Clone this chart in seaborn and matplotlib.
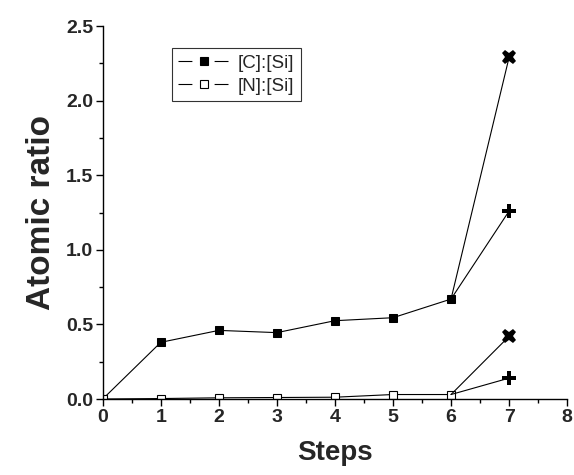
import matplotlib
matplotlib.use("Agg")
import matplotlib.pyplot as plt
import seaborn as sns
import pandas as pd
from matplotlib.ticker import MultipleLocator, FormatStrFormatter
from matplotlib.lines import Line2D
from matplotlib.legend_handler import HandlerTuple

steps = [0, 1, 2, 3, 4, 5, 6]
c_si = [0.0, 0.38, 0.46, 0.445, 0.525, 0.545, 0.67]
n_si = [0.0, 0.003, 0.008, 0.01, 0.012, 0.03, 0.03]
branch_step = 7
c_branch_x = 2.29
c_branch_plus = 1.26
n_branch_x = 0.42
n_branch_plus = 0.14
labels = ["[C]:[Si]", "[N]:[Si]"]

sns.set_theme(style="ticks")
plt.rcParams['font.family'] = ['Liberation Sans', 'DejaVu Sans']
plt.rcParams['lines.scale_dashes'] = False

fig = plt.figure(figsize=(5.74, 4.75), dpi=100)
ax = fig.add_axes([0.179, 0.16, 0.809, 0.785])

df = pd.DataFrame({"Steps": steps * 2,
                   "ratio": c_si + n_si,
                   "series": [labels[0]] * len(steps) + [labels[1]] * len(steps)})

sns.lineplot(data=df[df.series == labels[0]], x="Steps", y="ratio", ax=ax,
             color="black", lw=0.8, marker="s", markersize=6,
             markerfacecolor="black", markeredgecolor="black", legend=False)
sns.lineplot(data=df[df.series == labels[1]], x="Steps", y="ratio", ax=ax,
             color="black", lw=0.8, marker="s", markersize=6,
             markerfacecolor="white", markeredgecolor="black", markeredgewidth=0.8,
             legend=False)

# branches from step 6 to step 7
for start, end, mk in [(c_si[-1], c_branch_x, "X"), (c_si[-1], c_branch_plus, "P"),
                       (n_si[-1], n_branch_x, "X"), (n_si[-1], n_branch_plus, "P")]:
    bdf = pd.DataFrame({"Steps": [steps[-1], branch_step], "ratio": [start, end]})
    sns.lineplot(data=bdf, x="Steps", y="ratio", ax=ax, color="black", lw=0.8,
                 legend=False)
    ax.plot([branch_step], [end], marker=mk, color="black", markersize=10.5,
            linestyle="none", markeredgewidth=0)

ax.set_xlim(0, 8)
ax.set_ylim(0, 2.5)
ax.xaxis.set_major_locator(MultipleLocator(1))
ax.xaxis.set_minor_locator(MultipleLocator(0.5))
ax.yaxis.set_major_locator(MultipleLocator(0.5))
ax.yaxis.set_minor_locator(MultipleLocator(0.25))
ax.yaxis.set_major_formatter(FormatStrFormatter("%.1f"))
ax.tick_params(which="major", direction="out", length=5, width=1, labelsize=14, color="black")
ax.tick_params(which="minor", direction="out", length=3, width=1, color="black")
for lab in ax.get_xticklabels() + ax.get_yticklabels():
    lab.set_fontweight("bold")
ax.tick_params(axis="x", pad=2)
ax.tick_params(axis="y", pad=2)

for s in ["top", "right"]:
    ax.spines[s].set_visible(False)
for s in ["left", "bottom"]:
    ax.spines[s].set_color("black")
    ax.spines[s].set_linewidth(1)

ax.set_xlabel("Steps", fontsize=20, fontweight="bold", labelpad=10)
ax.set_ylabel("Atomic ratio", fontsize=24, fontweight="bold", labelpad=6)

# legend handles: "— ■ —" style
handles = []
for fc in ["black", "white"]:
    seg = Line2D([], [], color="black", lw=0.8, linestyle=(0, (10, 16)))
    mk = Line2D([], [], color="black", lw=0, marker="s", markersize=6 if fc == "black" else 5.5,
                markerfacecolor=fc, markeredgecolor="black", markeredgewidth=0.8)
    handles.append((seg, mk))

leg = ax.legend(handles, labels, handler_map={tuple: HandlerTuple(ndivide=1)},
                loc="upper left", bbox_to_anchor=(0.149, 0.941), fontsize=13.5,
                frameon=True, fancybox=False, edgecolor="black", handlelength=2.67,
                borderpad=0.35, labelspacing=0.3, handletextpad=0.5,
                borderaxespad=0, shadow=False)
leg.get_frame().set_linewidth(0.8)

fig.savefig("out.png", dpi=100)
